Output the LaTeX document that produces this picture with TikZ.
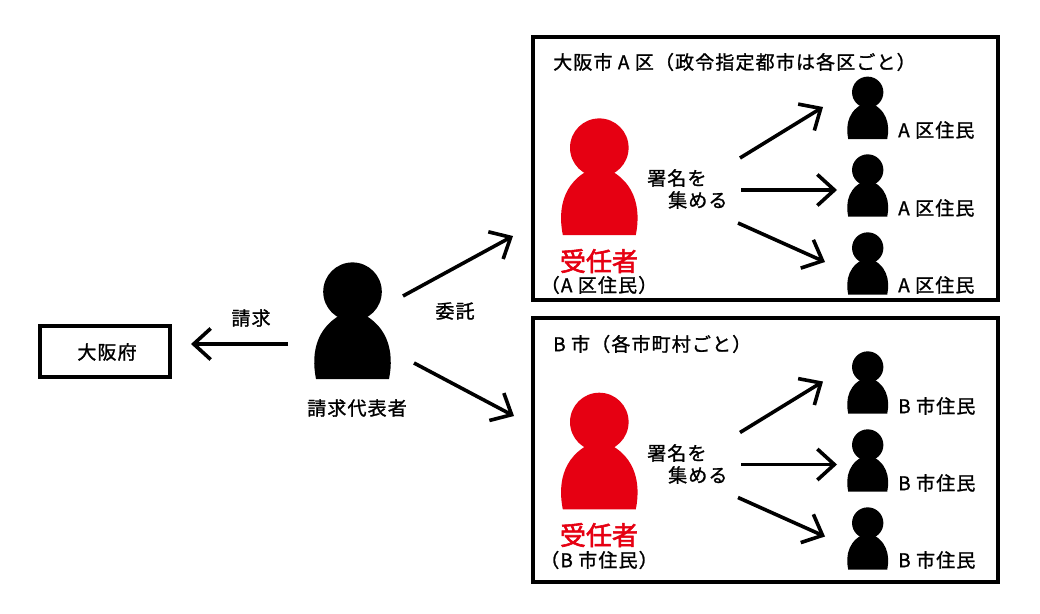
\documentclass[tikz,border=0pt]{standalone}
\usepackage{fontspec}
\setmainfont[LetterSpace=6,FakeBold=1.2]{Noto Sans CJK JP}
\newfontfamily\bigjp[FakeBold=2.2]{Noto Sans CJK JP}
\usetikzlibrary{arrows.meta}
\definecolor{hanko}{HTML}{E60012}
\tikzset{
  x=1pt,y=-1pt,
  frame/.style={draw=black,line width=4pt,fill=white},
  arr/.style={line width=3.6pt,-{Straight Barb[length=17pt,width=31pt,line width=3.6pt]}},
  txt/.style={inner sep=0pt,font=\fontsize{19}{21}\selectfont},
  lefttxt/.style={txt,anchor=west},
  personshape/.pic={
    \fill (0,0) circle[radius=29.3];
    \fill (-36.5,87.3) .. controls (-42,60) and (-36,30) .. (0,18)
          .. controls (36,30) and (42,60) .. (36.5,87.3) -- cycle;
  }
}
\begin{document}
\begin{tikzpicture}
\useasboundingbox (0,0) rectangle (1040,613);
% boxes
\node[frame,minimum width=130pt,minimum height=50.5pt,inner sep=0pt] (fu) at (105,351.3) {};
\node[txt] (futxt) at (107,352) {大阪府};
\node[frame,minimum width=464.4pt,minimum height=263pt,inner sep=0pt] (boxA) at (765.5,168.4) {};
\node[frame,minimum width=464.4pt,minimum height=264pt,inner sep=0pt] (boxB) at (765.5,450) {};
\node[lefttxt] (titleA) at (553,62) {大阪市 A 区（政令指定都市は各区ごと）};
\node[lefttxt] (titleB) at (553,344) {B 市（各市町村ごと）};
% people
\pic[black] at (352.5,291.7) {personshape};
\pic[hanko] at (599.3,147.7) {personshape};
\pic[hanko] at (599.3,422) {personshape};
\foreach \y in {92.3,170,248,367,445,523}
  \pic[black,scale=0.535] at (867.7,\y) {personshape};
% labels
\node[txt] (rep) at (357,408) {請求代表者};
\node[txt] (req) at (251,318) {請求};
\node[txt] (itaku) at (455,311) {委託};
\node[txt,text=hanko,font=\fontsize{26}{28}\bigjp] (juA) at (599,261) {受任者};
\node[txt,text=hanko,font=\fontsize{26}{28}\bigjp] (juB) at (599,535) {受任者};
\node[txt] (subA) at (599,285) {（A 区住民）};
\node[txt] (subB) at (599,560) {（B 市住民）};
\node[lefttxt] (sA1) at (647,178) {署名を};
\node[lefttxt] (sA2) at (668,200) {集める};
\node[lefttxt] (sB1) at (647,453) {署名を};
\node[lefttxt] (sB2) at (668,475) {集める};
\foreach \n/\y in {a/130,b/208,c/285}
  \node[lefttxt] (lA\n) at (898,\y) {A 区住民};
\foreach \n/\y in {a/406,b/483,c/560}
  \node[lefttxt] (lB\n) at (898,\y) {B 市住民};
% connector ends
\coordinate (repW) at (288,344);
\coordinate (repNE) at (403,296);
\coordinate (repSE) at (414,363);
\coordinate (toFu) at (191,344);
\coordinate (toA) at (513,236);
\coordinate (toB) at (514,416);
\draw[arr] (repW) -- (toFu);
\draw[arr] (repNE) -- (toA);
\draw[arr] (repSE) -- (toB);
\foreach \o/\d in {A/0,B/274.5}{
  \coordinate (s\o1) at (740,158+\d);
  \coordinate (s\o2) at (741,190+\d);
  \coordinate (s\o3) at (738,223+\d);
  \coordinate (e\o1) at (823,107+\d);
  \coordinate (e\o2) at (837,190+\d);
  \coordinate (e\o3) at (825,262+\d);
  \draw[arr] (s\o1) -- (e\o1);
  \draw[arr] (s\o2) -- (e\o2);
  \draw[arr] (s\o3) -- (e\o3);
}
\end{tikzpicture}
\end{document}
